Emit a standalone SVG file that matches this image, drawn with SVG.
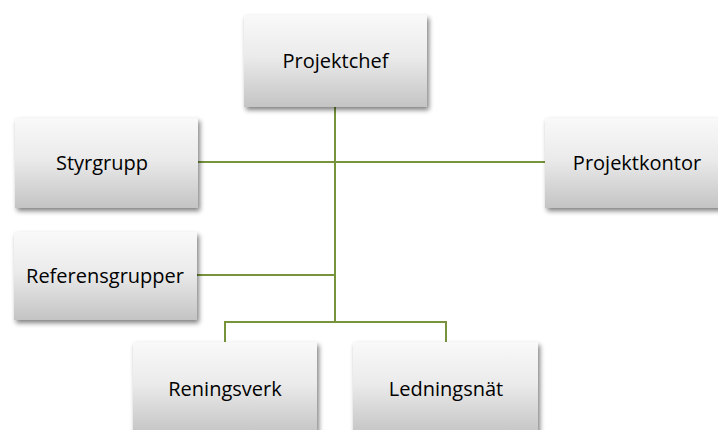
<svg xmlns="http://www.w3.org/2000/svg" width="718" height="430" viewBox="0 0 718 430">
<defs>
<linearGradient id="g" x1="0" y1="0" x2="0" y2="1">
<stop offset="0" stop-color="#f9f9f9"/>
<stop offset="0.45" stop-color="#ebebeb"/>
<stop offset="1" stop-color="#c4c4c4"/>
</linearGradient>
<filter id="sh" x="-10%" y="-10%" width="125%" height="130%">
<feGaussianBlur in="SourceAlpha" stdDeviation="2.5"/>
<feOffset dx="2" dy="3" result="b"/>
<feComponentTransfer><feFuncA type="linear" slope="0.5"/></feComponentTransfer>
<feMerge><feMergeNode/><feMergeNode in="SourceGraphic"/></feMerge>
</filter>
</defs>
<style>
.box{fill:url(#g);filter:url(#sh);}
.t{font-family:"Open Sans","Liberation Sans",sans-serif;font-size:20px;fill:#000;text-anchor:middle;dominant-baseline:central;}
.c{stroke:#77933c;stroke-width:2;fill:none;}
</style>
<rect width="718" height="430" fill="#fff"/>
<g id="connectors">
<path class="c" d="M335,107 V322"/>
<path class="c" d="M198,162 H545"/>
<path class="c" d="M197,275 H335"/>
<path class="c" d="M225,342 V322 H446 V342"/>
</g>
<g id="projektchef"><rect class="box" x="244" y="15" width="183" height="92"/><text class="t" x="335.5" y="60">Projektchef</text></g>
<g id="styrgrupp"><rect class="box" x="15" y="118" width="183" height="90"/><text class="t" x="102" y="162">Styrgrupp</text></g>
<g id="projektkontor"><rect class="box" x="545" y="118" width="183" height="90"/><text class="t" x="637" y="162">Projektkontor</text></g>
<g id="referensgrupper"><rect class="box" x="14" y="232" width="183" height="88"/><text class="t" x="105" y="275">Referensgrupper</text></g>
<g id="reningsverk"><rect class="box" x="133" y="342" width="184" height="92"/><text class="t" x="225" y="388">Reningsverk</text></g>
<g id="ledningsnat"><rect class="box" x="353" y="342" width="185" height="92"/><text class="t" x="446" y="388">Ledningsnät</text></g>
</svg>
